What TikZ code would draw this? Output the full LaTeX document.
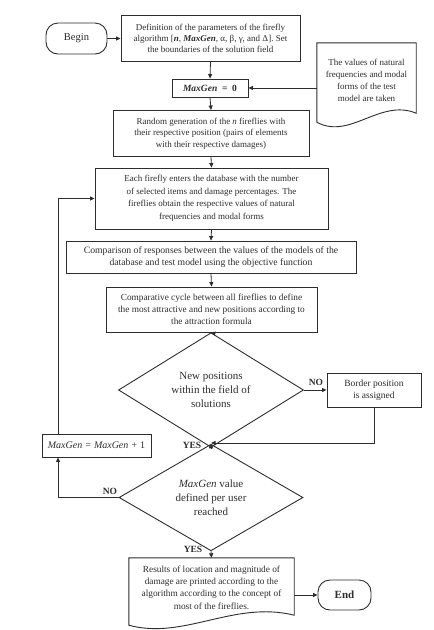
\documentclass[tikz,border=0pt]{standalone}
\usepackage{fontspec}
\setmainfont{Liberation Serif}
\usetikzlibrary{arrows.meta,shapes.geometric,calc}
\definecolor{ink}{RGB}{45,45,45}
\begin{document}
\begin{tikzpicture}[x=1pt,y=-1pt,
  box/.style={draw=ink, line width=0.9pt, fill=white, align=center, inner sep=0pt,
    font=\fontsize{9}{11.5}\selectfont, text=ink},
  term/.style={box, rounded corners=12pt},
  decision/.style={diamond, draw=ink, line width=0.9pt, inner sep=0pt, align=center,
    font=\fontsize{11}{14}\selectfont, text=ink},
  doctext/.style={align=center, inner sep=0pt, font=\fontsize{9}{12}\selectfont, text=ink},
  docline/.style={draw=ink, line width=0.9pt, fill=white},
  arr/.style={draw=ink, line width=0.8pt, -{Triangle[length=4.5pt,width=4pt]}},
  lbl/.style={font=\fontsize{9.5}{10}\selectfont\bfseries, text=ink, inner sep=0pt}]
\useasboundingbox (0,0) rectangle (434,630);

% terminals and process boxes
\node[term, minimum width=61pt, minimum height=31pt, font=\fontsize{10.5}{12}\selectfont] (begin) at (76.5,38.5) {Begin};
\node[box, minimum width=179pt, minimum height=46pt, font=\fontsize{9}{11}\selectfont] (def) at (210.5,38)
  {Definition of the parameters of the firefly\\
   algorithm [{\bfseries\itshape n}, {\bfseries\itshape MaxGen}, α, β, γ, and Δ]. Set\\
   the boundaries of the solution field};
\node[box, minimum width=76pt, minimum height=18pt, font=\fontsize{9.5}{11}\selectfont\bfseries] (mg0) at (210,88)
  {{\itshape MaxGen}\ \ =\ \ 0};

% document shape (test model data)
\node[doctext, minimum width=99pt, minimum height=70pt] (doc1) at (366.5,78) {};
\draw[docline] (doc1.north west) -- (doc1.north east) -- (doc1.south east)
  .. controls ($(doc1.south east)+(-36,-15)$) and ($(doc1.south west)+(33,27)$) ..
  ($(doc1.south west)+(0,9)$) -- cycle;
\node[doctext] (doc1t) at ($(doc1.center)+(0,2)$)
  {The values of natural\\ frequencies and modal\\ forms of the test\\ model are taken};

\node[box, minimum width=196pt, minimum height=46pt] (rand) at (211,133.5)
  {Random generation of the {\itshape n} fireflies with\\
   their respective position (pairs of elements\\
   with their respective damages)};
\node[box, minimum width=233pt, minimum height=61pt, font=\fontsize{9}{12.5}\selectfont] (each) at (211.5,198.5)
  {Each firefly enters the database with the number\\
   of selected items and damage percentages. The\\
   fireflies obtain the respective values of natural\\
   frequencies and modal forms};
\node[box, minimum width=290pt, minimum height=32pt, font=\fontsize{9.7}{12}\selectfont] (comp) at (211,257)
  {Comparison of responses between the values of the models of the\\
   database and test model using the objective function};
\node[box, minimum width=211pt, minimum height=45pt, font=\fontsize{9.3}{12}\selectfont] (cycle) at (211.5,309.5)
  {Comparative cycle between all fireflies to define\\
   the most attractive and new positions according to\\
   the attraction formula};

\node[decision, minimum width=185pt, minimum height=90pt] (dia1) at (211,390)
  {New positions\\ within the field of\\ solutions};
\node[box, minimum width=94pt, minimum height=34pt, font=\fontsize{9.5}{12}\selectfont] (border) at (374,390)
  {Border position\\ is assigned};
\coordinate (merge) at (211,443);

\node[box, minimum width=109pt, minimum height=23pt, font=\fontsize{10}{12}\selectfont\itshape] (mg1) at (96.5,445.5)
  {MaxGen\ =\ MaxGen\ +\ {\upshape 1}};
\node[decision, minimum width=184pt, minimum height=91pt] (dia2) at (211,497.5)
  {{\itshape MaxGen} value\\ defined per user\\ reached};

% results document
\node[doctext, minimum width=165pt, minimum height=57pt] (res) at (211.5,586.5) {};
\draw[docline] (res.north west) -- (res.north east) -- (res.south east)
  .. controls ($(res.south east)+(-60,-15)$) and ($(res.south west)+(55,25)$) ..
  ($(res.south west)+(0,10)$) -- cycle;
\node[doctext, font=\fontsize{9.3}{12.3}\selectfont] (rest) at ($(res.center)+(0,1)$)
  {Results of location and magnitude of\\
   damage are printed according to the\\
   algorithm according to the concept of\\
   most of the fireflies.};
\node[term, minimum width=53pt, minimum height=30pt, font=\fontsize{11}{12}\selectfont\bfseries] (end) at (344.5,595) {End};

% connectors
\draw[arr] (begin.east) -- (def.west |- begin.east);
\draw[arr] (def.south) -- (mg0.north);
\draw[arr] (doc1.west |- mg0.east) -- (mg0.east);
\draw[arr] (mg0.south) -- (rand.north);
\draw[arr] (rand.south) -- (each.north);
\draw[arr] (each.south) -- (comp.north);
\draw[arr] (comp.south) -- (cycle.north);
\draw[arr] (cycle.south) -- (dia1.north);
\draw[arr] (dia1.east) -- (border.west);
\draw[arr] (border.south) |- (merge);
\draw[arr] (dia1.south) -- (dia2.north);
\draw[arr] (dia2.west) -| ($(mg1.south west)!0.15!(mg1.south east)$);
\draw[arr] ($(mg1.north west)!0.15!(mg1.north east)$) |- (each.west);
\draw[arr] (dia2.south) -- (res.north);
\draw[arr] (res.east |- end.west) -- (end.west);

% labels
\node[lbl] (no1) at (316,382) {NO};
\node[lbl] (yes1) at (192,445) {YES};
\node[lbl] (no2) at (110,491) {NO};
\node[lbl] (yes2) at (193,549) {YES};
\end{tikzpicture}
\end{document}
